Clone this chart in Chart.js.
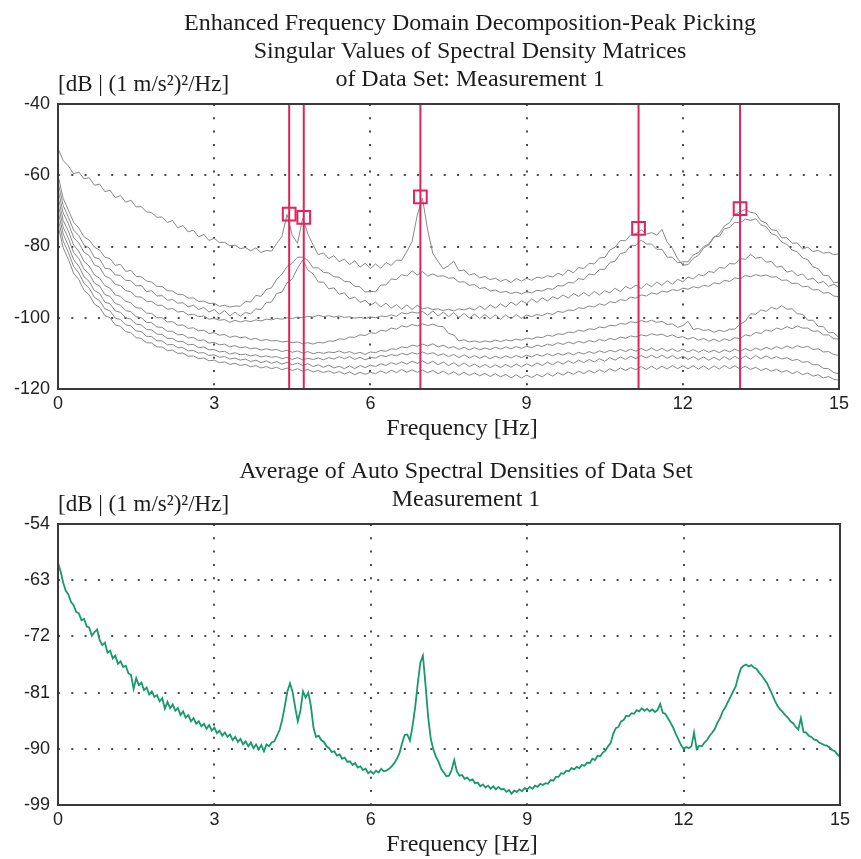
<!DOCTYPE html>
<html><head><meta charset="utf-8">
<script src="https://cdn.jsdelivr.net/npm/chart.js@4.4.1/dist/chart.umd.min.js"></script>
<style>
html,body{margin:0;padding:0;background:#fff;}
body{width:861px;height:859px;position:relative;overflow:hidden;}
canvas{position:absolute;left:0;}
#c1{top:0;}
#c2{top:450px;}
</style></head><body>
<canvas id="c1" width="861" height="450"></canvas>
<canvas id="c2" width="861" height="409"></canvas>
<script>
// ---------------- data ----------------
const TITLE_SV = ["Enhanced Frequency Domain Decomposition-Peak Picking", "Singular Values of Spectral Density Matrices", "of Data Set: Measurement 1"];
const TITLE_ASD = ["Average of Auto Spectral Densities of Data Set", "Measurement 1"];
const X_TITLE = "Frequency [Hz]";
const Y_UNIT = "[dB | (1 m/s\u00B2)\u00B2/Hz]";
const X_TICKS = [0, 3, 6, 9, 12, 15];
const Y_TICKS_SV = [-120, -100, -80, -60, -40];
const Y_TICKS_ASD = [-99, -90, -81, -72, -63, -54];

// frequency sample grids (Hz)
const FREQ_SV = Array.from({length: 151}, (_, i) => i / 10);
const FREQ_ASD = Array.from({length: 301}, (_, i) => i / 20);

// picked peaks
const PEAK_FREQ = [4.44, 4.72, 6.96, 11.15, 13.1];
const PEAK_DB = [-70.9, -71.8, -66.1, -74.9, -69.4];

// singular value curves (dB), sampled every 0.1 Hz
const SV1 = [
-52.5,-55.9,-57.4,-59.6,-59.1,-61.0,-60.7,-62.8,-62.5,-64.6,
-64.2,-66.3,-65.7,-67.6,-67.0,-68.9,-68.8,-70.3,-70.5,-71.8,
-71.7,-73.3,-72.7,-74.8,-74.1,-75.9,-75.4,-77.3,-76.6,-78.3,
-77.7,-78.9,-78.8,-79.8,-79.6,-80.6,-80.3,-81.2,-80.4,-81.7,
-81.1,-81.3,-79.2,-77.2,-71.0,-76.9,-79.1,-72.0,-76.5,-79.6,
-82.3,-81.8,-83.4,-82.6,-84.3,-83.5,-85.1,-84.0,-85.8,-84.7,
-86.2,-84.9,-86.1,-84.5,-85.3,-83.8,-83.9,-81.4,-78.6,-71.2,
-66.4,-75.4,-82.0,-84.2,-86.3,-85.4,-84.1,-86.8,-86.6,-88.0,
-87.6,-88.8,-88.4,-89.3,-88.9,-89.8,-89.2,-90.1,-89.0,-89.7,
-88.9,-89.5,-88.6,-88.9,-88.2,-88.6,-87.5,-88.1,-86.6,-87.4,
-85.9,-86.2,-84.7,-84.9,-83.2,-83.1,-81.0,-80.2,-78.3,-78.4,
-76.7,-76.4,-75.3,-76.5,-76.1,-76.8,-75.2,-78.8,-80.5,-83.4,
-85.2,-85.1,-83.3,-82.5,-80.4,-79.6,-77.4,-76.4,-74.2,-73.3,
-70.9,-70.3,-69.6,-70.4,-70.7,-72.8,-73.4,-75.3,-75.5,-77.6,
-77.5,-79.1,-79.0,-80.7,-80.2,-81.4,-81.1,-81.9,-81.6,-82.3,
-82.1];
const SV2 = [
-60.0,-66.5,-69.8,-73.2,-74.8,-77.3,-78.2,-80.2,-81.0,-83.0,
-83.4,-85.3,-85.0,-87.0,-86.7,-88.4,-88.5,-89.7,-90.0,-91.2,
-91.2,-92.4,-92.5,-93.5,-93.5,-94.5,-94.4,-95.4,-95.3,-96.0,
-95.9,-96.8,-96.5,-97.0,-96.7,-96.8,-95.4,-95.6,-93.7,-94.0,
-92.1,-91.6,-89.2,-87.8,-85.6,-84.7,-83.0,-83.0,-83.9,-86.0,
-86.0,-87.3,-87.4,-88.5,-88.6,-89.8,-89.9,-91.2,-91.3,-92.8,
-92.6,-92.7,-90.8,-90.8,-89.1,-89.3,-87.9,-88.3,-86.8,-88.0,
-87.0,-88.3,-87.7,-88.4,-88.2,-88.9,-88.8,-90.0,-89.9,-90.9,
-90.7,-91.8,-91.5,-92.5,-92.2,-92.9,-92.6,-93.2,-92.8,-93.3,
-92.7,-93.0,-92.3,-92.5,-91.8,-92.0,-91.0,-91.1,-90.1,-90.2,
-89.0,-89.3,-87.7,-88.0,-86.4,-86.4,-84.5,-84.1,-82.0,-81.6,
-79.7,-79.7,-78.2,-79.3,-79.3,-80.8,-80.8,-83.0,-83.0,-84.6,
-84.3,-84.3,-82.4,-81.7,-80.0,-79.3,-77.2,-77.2,-75.0,-74.7,
-73.2,-73.4,-72.3,-72.7,-72.2,-73.9,-74.4,-76.4,-76.9,-78.8,
-79.4,-81.0,-81.5,-83.2,-83.7,-85.7,-86.2,-88.1,-88.2,-90.2,
-90.0];
const SV3 = [
-62.0,-68.5,-71.8,-75.4,-76.9,-79.6,-80.4,-83.1,-83.5,-86.1,
-86.3,-88.0,-88.1,-89.5,-89.6,-91.1,-90.9,-92.7,-92.4,-93.9,
-93.8,-95.1,-94.9,-95.9,-95.8,-96.9,-96.5,-97.7,-97.1,-98.4,
-97.7,-99.0,-98.0,-99.5,-98.4,-99.6,-98.5,-98.9,-97.5,-97.7,
-95.7,-95.6,-93.2,-92.8,-90.2,-89.1,-86.1,-83.8,-86.6,-87.7,
-90.0,-90.0,-91.9,-91.6,-93.4,-93.0,-94.7,-94.2,-95.7,-95.1,
-96.5,-95.6,-97.0,-95.9,-97.3,-96.3,-97.6,-96.4,-97.7,-96.5,
-97.5,-97.2,-97.7,-97.5,-98.0,-97.6,-98.1,-97.5,-97.8,-97.3,
-97.8,-96.7,-97.7,-96.4,-97.3,-96.1,-97.0,-95.6,-96.5,-95.2,
-96.0,-94.7,-95.7,-94.4,-95.3,-94.1,-94.7,-93.6,-94.5,-93.2,
-94.0,-92.9,-93.9,-92.6,-93.6,-92.4,-93.0,-91.7,-92.7,-91.2,
-91.9,-90.8,-91.8,-90.4,-91.3,-90.0,-90.9,-89.6,-90.6,-89.2,
-89.9,-88.6,-89.1,-87.9,-88.2,-87.0,-87.3,-85.9,-86.1,-84.8,
-84.9,-83.4,-83.6,-82.2,-83.3,-83.0,-84.4,-84.2,-85.8,-85.5,
-87.2,-86.8,-88.2,-87.7,-89.3,-88.9,-90.3,-89.8,-91.2,-90.6,
-91.5];
const SV4 = [
-64.0,-70.6,-73.6,-77.5,-79.0,-81.6,-82.6,-85.2,-85.8,-88.3,
-88.9,-90.6,-91.0,-92.4,-92.7,-94.1,-94.2,-95.4,-95.4,-96.5,
-96.5,-97.6,-97.4,-98.4,-98.2,-99.2,-99.0,-99.7,-99.5,-100.4,
-100.2,-100.7,-100.5,-101.3,-100.7,-101.2,-100.8,-101.1,-100.6,-100.9,
-100.4,-100.6,-100.2,-100.4,-100.0,-100.2,-99.8,-100.0,-99.6,-99.8,
-99.3,-99.7,-99.4,-99.8,-99.5,-99.9,-99.7,-100.1,-99.9,-100.2,
-99.8,-100.0,-99.5,-99.7,-99.2,-99.6,-98.6,-98.9,-98.4,-98.7,
-98.2,-99.3,-98.1,-99.5,-98.4,-99.7,-98.6,-99.9,-98.8,-100.1,
-99.0,-100.2,-99.1,-100.3,-99.2,-100.4,-99.2,-100.3,-99.1,-100.2,
-99.2,-99.7,-99.1,-99.4,-98.7,-99.1,-98.2,-98.5,-97.8,-98.0,
-97.2,-97.4,-96.7,-97.0,-96.1,-96.5,-95.5,-95.8,-94.9,-95.2,
-94.2,-94.5,-93.6,-93.9,-93.0,-93.4,-92.5,-92.8,-92.1,-92.4,
-91.7,-92.0,-91.3,-91.6,-90.9,-91.2,-90.2,-90.5,-89.5,-89.8,
-88.8,-89.1,-88.1,-88.5,-87.9,-88.3,-88.0,-88.6,-88.5,-89.5,
-89.4,-90.4,-90.3,-91.3,-91.2,-92.2,-92.1,-93.1,-92.9,-93.9,
-94.1];
const SV5 = [
-66.0,-72.7,-75.7,-79.6,-81.3,-84.2,-85.5,-88.0,-88.9,-91.0,
-91.7,-93.6,-94.0,-95.4,-95.8,-97.2,-97.3,-98.7,-98.8,-100.0,
-100.0,-101.2,-101.1,-102.1,-102.0,-103.0,-102.8,-103.7,-103.5,-104.4,
-104.2,-104.9,-104.7,-105.5,-105.1,-105.6,-105.4,-106.1,-105.8,-106.4,
-106.1,-106.5,-106.4,-106.8,-106.6,-107.0,-106.8,-107.3,-107.0,-107.4,
-106.9,-107.1,-106.5,-106.6,-105.9,-106.1,-105.4,-105.5,-104.8,-105.0,
-104.2,-104.4,-103.5,-103.8,-102.9,-103.2,-102.3,-102.6,-101.9,-102.3,
-101.7,-102.2,-101.8,-102.4,-102.5,-104.4,-104.8,-106.5,-106.2,-106.8,
-106.5,-106.9,-106.5,-106.8,-106.3,-106.7,-106.2,-106.5,-106.0,-106.3,
-105.7,-106.0,-105.4,-105.6,-104.9,-105.2,-104.5,-104.7,-104.0,-104.2,
-103.5,-103.8,-103.1,-103.3,-102.6,-102.8,-102.1,-102.3,-101.6,-101.8,
-101.1,-101.4,-100.8,-101.2,-100.7,-101.3,-101.0,-101.9,-101.7,-102.7,
-102.2,-101.0,-103.3,-103.0,-103.6,-103.3,-104.1,-103.5,-103.9,-103.2,
-103.2,-101.8,-101.0,-98.9,-99.0,-97.8,-98.2,-97.1,-97.6,-96.6,
-97.6,-97.5,-98.9,-99.0,-100.7,-100.7,-102.4,-102.5,-104.2,-104.2,
-105.6];
const SV6 = [
-68.0,-74.6,-77.7,-81.7,-83.4,-86.4,-87.7,-90.3,-91.1,-93.5,
-94.0,-96.0,-96.5,-98.0,-98.3,-99.7,-100.0,-101.3,-101.4,-102.6,
-102.7,-103.8,-103.8,-104.8,-104.7,-105.7,-105.5,-106.4,-106.2,-107.1,
-106.9,-107.6,-107.4,-108.2,-107.8,-108.4,-108.2,-108.7,-108.5,-109.1,
-108.7,-109.1,-108.9,-109.5,-109.1,-109.7,-109.3,-109.9,-109.5,-110.1,
-109.7,-110.0,-109.6,-109.8,-109.3,-109.9,-109.5,-110.1,-109.7,-110.3,
-109.6,-109.8,-109.2,-109.4,-108.7,-108.9,-108.2,-108.4,-107.7,-108.0,
-107.4,-107.9,-107.3,-108.2,-107.7,-108.5,-108.1,-108.9,-108.3,-109.0,
-108.4,-109.0,-108.5,-108.9,-108.3,-108.8,-108.2,-108.7,-108.1,-108.6,
-108.0,-108.4,-107.7,-108.1,-107.4,-107.8,-107.0,-107.5,-106.8,-107.3,
-106.6,-107.1,-106.4,-106.8,-106.1,-106.5,-105.8,-106.2,-105.4,-105.8,
-105.1,-105.4,-104.8,-105.1,-104.5,-104.9,-104.6,-105.3,-104.8,-105.6,
-105.3,-106.0,-105.5,-106.3,-105.8,-106.6,-106.0,-106.7,-105.9,-106.4,
-105.6,-105.9,-104.8,-105.1,-104.1,-104.4,-103.4,-103.8,-102.9,-103.3,
-102.5,-103.1,-102.3,-102.9,-102.9,-103.8,-103.7,-104.8,-104.8,-105.9,
-106.0];
const SV7 = [
-70.0,-76.5,-79.8,-83.7,-85.5,-88.5,-89.8,-92.4,-93.2,-95.6,
-96.1,-98.1,-98.5,-100.0,-100.4,-101.8,-102.0,-103.3,-103.4,-104.6,
-104.7,-105.8,-105.8,-106.7,-106.7,-107.6,-107.5,-108.4,-108.2,-109.0,
-108.9,-109.6,-109.4,-110.2,-109.8,-110.4,-110.2,-110.7,-110.4,-111.0,
-110.7,-111.1,-110.9,-111.5,-111.1,-111.7,-111.2,-111.8,-111.4,-111.7,
-111.3,-111.8,-111.2,-111.6,-110.9,-111.5,-110.9,-111.7,-111.1,-111.8,
-111.2,-111.3,-110.6,-110.9,-110.3,-110.7,-110.0,-110.4,-109.8,-110.2,
-109.6,-110.2,-109.8,-110.6,-110.1,-110.9,-110.3,-111.2,-110.4,-111.3,
-110.6,-111.4,-110.7,-111.5,-110.8,-111.4,-110.7,-111.3,-110.6,-111.2,
-110.5,-111.0,-110.3,-110.8,-110.1,-110.7,-110.0,-110.5,-109.8,-110.4,
-109.7,-110.2,-109.5,-110.0,-109.3,-109.8,-109.1,-109.6,-108.9,-109.5,
-108.8,-109.4,-108.6,-109.3,-108.5,-109.3,-108.6,-109.4,-108.7,-109.5,
-108.8,-109.6,-108.9,-109.7,-109.0,-109.7,-109.1,-109.8,-109.0,-109.6,
-108.8,-109.5,-108.6,-109.3,-108.5,-109.1,-108.3,-108.9,-108.1,-108.7,
-107.9,-108.6,-107.8,-108.4,-108.0,-108.9,-108.7,-109.6,-109.5,-110.3,
-110.6];
const SV8 = [
-72.0,-78.5,-81.7,-85.6,-87.4,-90.4,-91.7,-94.3,-95.2,-97.5,
-98.1,-100.1,-100.5,-102.0,-102.3,-103.7,-103.9,-105.2,-105.3,-106.5,
-106.5,-107.6,-107.5,-108.4,-108.4,-109.3,-109.2,-109.9,-109.8,-110.6,
-110.4,-111.1,-110.9,-111.6,-111.3,-111.9,-111.6,-112.3,-111.9,-112.6,
-112.1,-112.8,-112.3,-113.0,-112.5,-113.2,-112.7,-113.4,-112.9,-113.7,
-113.2,-113.9,-113.3,-114.1,-113.6,-114.3,-113.5,-114.3,-113.4,-114.0,
-113.3,-113.7,-112.9,-113.4,-112.6,-113.1,-112.4,-113.0,-112.2,-112.8,
-112.1,-112.9,-112.2,-113.2,-112.4,-113.4,-112.6,-113.6,-112.7,-113.7,
-113.0,-113.9,-113.1,-114.0,-113.2,-114.0,-113.1,-113.9,-113.0,-113.8,
-112.9,-113.6,-112.7,-113.4,-112.5,-113.2,-112.3,-113.0,-112.1,-112.8,
-111.9,-112.6,-111.7,-112.4,-111.5,-112.2,-111.2,-111.9,-111.0,-111.7,
-110.8,-111.5,-110.6,-111.3,-110.5,-111.3,-110.5,-111.4,-110.6,-111.5,
-110.8,-111.7,-110.9,-111.8,-111.0,-111.9,-111.1,-111.9,-110.9,-111.8,
-110.8,-111.7,-110.7,-111.6,-110.6,-111.5,-110.7,-111.5,-110.9,-111.6,
-111.2,-112.0,-111.7,-112.5,-112.3,-113.2,-113.2,-114.2,-114.3,-115.4,
-115.7];
const SV9 = [
-74.0,-80.4,-83.6,-87.5,-89.3,-92.3,-93.6,-96.2,-97.1,-99.4,
-100.0,-102.0,-102.4,-103.9,-104.2,-105.6,-105.8,-107.0,-107.1,-108.2,
-108.2,-109.2,-109.1,-110.0,-109.9,-110.8,-110.7,-111.5,-111.3,-112.1,
-111.9,-112.6,-112.4,-113.1,-112.8,-113.4,-113.1,-113.8,-113.4,-114.1,
-113.7,-114.3,-113.9,-114.6,-114.1,-114.8,-114.3,-115.0,-114.5,-115.2,
-114.8,-115.4,-114.9,-115.6,-115.1,-115.8,-115.2,-116.0,-115.3,-115.9,
-115.3,-115.7,-114.9,-115.6,-114.7,-115.4,-114.5,-115.3,-114.6,-115.3,
-114.7,-115.4,-114.8,-115.7,-115.0,-115.9,-115.2,-116.1,-115.3,-116.2,
-115.5,-116.3,-115.6,-116.5,-115.7,-116.6,-115.9,-116.9,-116.0,-116.9,
-116.1,-116.8,-115.9,-116.6,-115.6,-116.4,-115.4,-116.1,-115.2,-115.9,
-115.0,-115.7,-114.8,-115.5,-114.6,-115.3,-114.3,-115.0,-114.1,-114.8,
-114.0,-114.6,-113.7,-114.5,-113.6,-114.5,-113.6,-114.4,-113.4,-114.3,
-113.5,-114.3,-113.5,-114.4,-113.5,-114.5,-113.5,-114.4,-113.4,-114.3,
-113.5,-114.4,-113.6,-114.5,-113.9,-114.8,-114.2,-115.0,-114.5,-115.3,
-114.8,-115.7,-115.1,-116.0,-115.5,-116.4,-116.0,-116.9,-116.5,-117.3,
-117.5];

// average auto spectral density (dB), sampled every 0.05 Hz
const ASD_AVG = [
-60.2,-61.6,-63.4,-64.7,-65.3,-66.5,-67.0,-68.1,-68.3,-69.4,-69.2,-70.4,-70.6,-71.9,-71.3,-70.9,-72.6,-73.4,-73.0,-74.6,
-74.3,-75.5,-75.1,-76.4,-76.0,-76.9,-76.7,-77.9,-78.2,-80.4,-78.7,-79.8,-79.4,-80.6,-80.2,-81.3,-80.8,-81.7,-81.4,-82.4,
-81.9,-83.6,-82.5,-83.5,-82.9,-83.9,-83.5,-84.6,-84.0,-85.0,-84.6,-85.6,-85.1,-86.0,-85.6,-86.4,-86.0,-86.8,-86.2,-87.1,
-86.6,-87.5,-87.1,-87.9,-87.4,-88.1,-87.7,-88.6,-88.1,-88.9,-88.4,-89.3,-88.8,-89.6,-89.0,-89.9,-89.3,-90.1,-89.4,-90.4,
-89.3,-89.6,-89.0,-88.8,-87.9,-87.0,-85.4,-83.2,-80.8,-79.5,-80.9,-83.4,-85.6,-83.9,-80.8,-81.8,-81.0,-83.1,-86.6,-88.1,
-87.9,-88.6,-88.9,-89.6,-89.9,-90.5,-90.4,-91.1,-90.9,-91.6,-91.4,-92.1,-92.0,-92.6,-92.3,-93.0,-92.8,-93.4,-93.2,-93.9,
-93.6,-94.0,-93.5,-93.8,-93.2,-93.6,-93.5,-93.2,-92.8,-92.3,-91.6,-90.7,-89.1,-87.8,-87.7,-88.7,-86.4,-83.4,-79.6,-76.2,
-75.1,-79.8,-84.9,-88.4,-90.1,-91.3,-92.1,-93.2,-93.8,-94.4,-94.3,-93.4,-91.8,-93.6,-94.3,-94.2,-94.8,-94.6,-95.1,-94.9,
-95.5,-95.4,-96.0,-95.7,-96.2,-95.9,-96.4,-96.0,-96.5,-96.1,-96.5,-96.4,-96.9,-96.6,-97.2,-96.7,-96.9,-96.5,-96.8,-96.3,
-96.5,-96.1,-96.4,-95.9,-96.1,-95.6,-95.8,-95.5,-95.6,-95.0,-95.1,-94.5,-94.5,-93.9,-94.0,-93.5,-93.6,-93.1,-93.3,-92.9,
-93.1,-92.6,-92.7,-92.2,-92.3,-91.6,-91.8,-91.1,-91.2,-90.6,-90.3,-89.6,-89.1,-87.6,-86.7,-86.5,-85.6,-85.4,-84.7,-84.8,
-84.3,-84.4,-83.8,-84.0,-83.5,-83.9,-83.6,-84.0,-83.7,-84.1,-83.8,-82.8,-84.2,-84.4,-85.1,-85.8,-86.6,-87.6,-88.5,-89.4,
-90.0,-89.7,-89.9,-89.6,-87.4,-90.0,-89.5,-89.6,-89.0,-88.6,-87.9,-87.4,-86.8,-85.8,-85.1,-84.0,-83.4,-82.5,-81.7,-80.8,
-80.0,-78.4,-77.1,-76.7,-76.5,-76.8,-76.6,-77.0,-77.2,-77.8,-78.3,-78.9,-79.5,-80.4,-81.3,-82.3,-83.1,-83.7,-84.1,-84.6,
-85.0,-85.6,-85.9,-86.5,-86.9,-85.1,-87.3,-87.4,-87.9,-88.1,-88.5,-88.6,-89.0,-89.2,-89.4,-89.5,-89.8,-90.2,-90.4,-90.9,
-91.3];

// ---------------- styling ----------------
const TEXT_COLOR = '#1c1c1c';
const SERIF = "'Liberation Serif', 'Times New Roman', Times, serif";
const SANS = "'Liberation Sans', Arial, Helvetica, sans-serif";
const GRID_COLOR = '#4a4a4a';
const FRAME_COLOR = '#3a3a3a';
const CURVE_GRAY = '#888888';
const PEAK_RED = '#e2235c';
const ASD_GREEN = '#17996d';

Chart.defaults.font.family = SANS;

const framePlugin = {
  id: 'frame',
  afterDatasetsDraw(chart) {
    const {ctx, chartArea: a} = chart;
    ctx.save();
    ctx.strokeStyle = FRAME_COLOR;
    ctx.lineWidth = 2;
    ctx.strokeRect(a.left, a.top, a.right - a.left, a.bottom - a.top);
    ctx.restore();
  }
};

function textPlugin(lines, centerX, firstBaseline) {
  return {
    id: 'texts',
    afterDraw(chart) {
      const {ctx, chartArea: a} = chart;
      ctx.save();
      ctx.fillStyle = TEXT_COLOR;
      ctx.textBaseline = 'alphabetic';
      ctx.textAlign = 'center';
      ctx.font = '24px ' + SERIF;
      lines.forEach((t, i) => ctx.fillText(t, centerX, firstBaseline + i * 28));
      ctx.fillText(X_TITLE, 462, a.bottom + 46);
      ctx.textAlign = 'left';
      ctx.font = '23px ' + SERIF;
      ctx.fillText(Y_UNIT, a.left, a.top - 13);
      ctx.restore();
    }
  };
}

function scales(yTicks, xHeight) {
  const mk = (ticksArr, isX) => ({
    type: 'linear',
    min: ticksArr[0], max: ticksArr[ticksArr.length - 1],
    grid: { color: GRID_COLOR, lineWidth: 2, drawTicks: false },
    border: { display: false, dash: [2, 11.3] },
    ticks: { font: { family: SANS, size: 18 }, color: '#222', padding: isX ? 4 : 8, maxRotation: 0, autoSkip: false },
    afterBuildTicks: s => { s.ticks = ticksArr.map(v => ({ value: v })); },
    afterFit: s => { if (isX) s.height = xHeight; else s.width = 58; }
  });
  return { x: mk(X_TICKS, true), y: mk(yTicks, false) };
}

const baseOptions = (padTop, padRight, yTicks, xHeight) => ({
  responsive: false, animation: false, devicePixelRatio: 1, events: [],
  layout: { padding: { top: padTop, right: padRight, left: 0, bottom: 0 } },
  plugins: { legend: { display: false }, tooltip: { enabled: false }, title: { display: false } },
  elements: { point: { radius: 0 }, line: { tension: 0 } },
  scales: scales(yTicks, xHeight)
});

// ---------------- top chart ----------------
const svYMin = Y_TICKS_SV[0], svYMax = Y_TICKS_SV[Y_TICKS_SV.length - 1];
const peakLines = [];
PEAK_FREQ.forEach(f => { peakLines.push({x: f, y: svYMin}, {x: f, y: svYMax}, {x: f, y: null}); });

const svDatasets = [
  { data: PEAK_FREQ.map((f, i) => ({x: f, y: PEAK_DB[i]})), showLine: false, order: 0,
    pointStyle: 'rect', pointRadius: 9, pointBorderWidth: 2, pointBorderColor: PEAK_RED,
    pointBackgroundColor: 'rgba(255,255,255,0)' },
  { data: peakLines, borderColor: PEAK_RED, borderWidth: 2, pointRadius: 0, spanGaps: false, order: 1 }
].concat([SV1, SV2, SV3, SV4, SV5, SV6, SV7, SV8, SV9].map(vals => ({
  data: FREQ_SV.map((f, i) => ({x: f, y: vals[i]})),
  borderColor: CURVE_GRAY, borderWidth: 1, pointRadius: 0, order: 2
})));

new Chart(document.getElementById('c1'), {
  type: 'line',
  data: { datasets: svDatasets },
  options: baseOptions(104, 22, Y_TICKS_SV, 61),
  plugins: [framePlugin, textPlugin(TITLE_SV, 470, 30)]
});

// ---------------- bottom chart ----------------
new Chart(document.getElementById('c2'), {
  type: 'line',
  data: { datasets: [{
    data: FREQ_ASD.map((f, i) => ({x: f, y: ASD_AVG[i]})),
    borderColor: ASD_GREEN, borderWidth: 1.8, pointRadius: 0
  }] },
  options: baseOptions(74, 21, Y_TICKS_ASD, 54),
  plugins: [framePlugin, textPlugin(TITLE_ASD, 466, 28)]
});
</script></body></html>
